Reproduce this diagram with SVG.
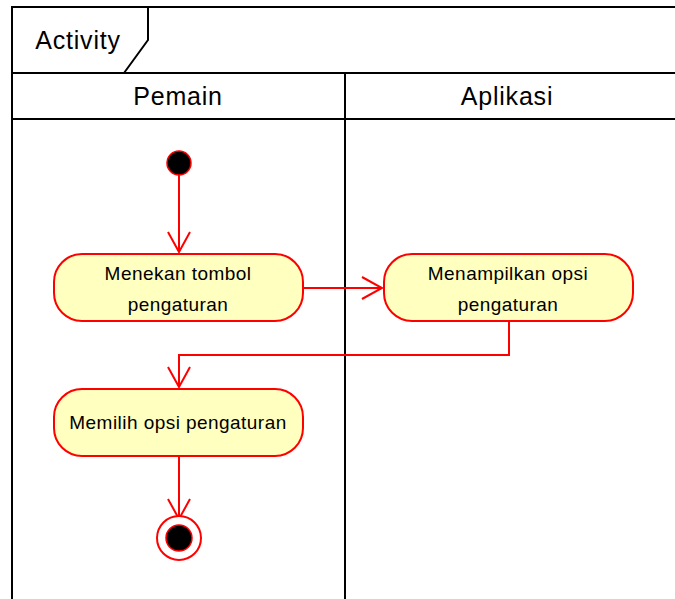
<svg xmlns="http://www.w3.org/2000/svg" width="675" height="599" viewBox="0 0 675 599">
  <style>
    .frame { fill: none; stroke: #000; stroke-width: 2; }
    .action { fill: #ffffc0; stroke: #ff0000; stroke-width: 2; }
    .flow { fill: none; stroke: #ff0000; stroke-width: 2; }
    .lbl { font-family: "Liberation Sans", Arial, sans-serif; fill: #000; text-anchor: middle; }
    .act { font-size: 19px; letter-spacing: 0.45px; }
    .lane { font-size: 25px; letter-spacing: 0.8px; }
  </style>
  <defs>
    <marker id="open" viewBox="0 0 24 24" markerWidth="24" markerHeight="24" refX="22" refY="12" orient="auto" markerUnits="userSpaceOnUse">
      <path d="M2,1 L22,12 L2,23" fill="none" stroke="#ff0000" stroke-width="2"/>
    </marker>
  </defs>

  <!-- activity frame and swimlanes -->
  <g id="frame">
    <path class="frame" d="M12,599 V7 H680"/>
    <path class="frame" d="M148,7 V40 L124,73"/>
    <line class="frame" x1="12" y1="73" x2="680" y2="73"/>
    <line class="frame" x1="12" y1="119" x2="680" y2="119"/>
    <line class="frame" x1="345" y1="73" x2="345" y2="599"/>
    <text class="lbl lane" x="78" y="49">Activity</text>
    <text class="lbl lane" x="178" y="105">Pemain</text>
    <text class="lbl lane" x="507" y="105">Aplikasi</text>
  </g>

  <g id="connectors">
    <line class="flow" x1="179" y1="175" x2="179" y2="252" marker-end="url(#open)"/>
    <line class="flow" x1="303" y1="288" x2="382" y2="288" marker-end="url(#open)"/>
    <polyline class="flow" points="509,321 509,355 179,355 179,387" marker-end="url(#open)"/>
    <line class="flow" x1="179" y1="456" x2="179" y2="519" marker-end="url(#open)"/>
  </g>

  <g id="start">
    <circle cx="179" cy="163" r="12" fill="#000" stroke="#ff0000" stroke-width="1.5"/>
  </g>

  <g id="menekan">
    <rect class="action" x="54" y="254" width="249" height="67" rx="28"/>
    <text class="lbl act" x="178" y="280">Menekan tombol</text>
    <text class="lbl act" x="178" y="311">pengaturan</text>
  </g>

  <g id="menampilkan">
    <rect class="action" x="384" y="254" width="249" height="67" rx="28"/>
    <text class="lbl act" x="508" y="280">Menampilkan opsi</text>
    <text class="lbl act" x="508" y="311">pengaturan</text>
  </g>

  <g id="memilih">
    <rect class="action" x="54" y="389" width="249" height="67" rx="28"/>
    <text class="lbl act" x="178" y="429">Memilih opsi pengaturan</text>
  </g>

  <g id="end">
    <circle cx="179" cy="538" r="22" fill="#fff" stroke="#ff0000" stroke-width="2"/>
    <circle cx="179" cy="538" r="13" fill="#000" stroke="#ff0000" stroke-width="1.5"/>
  </g>
</svg>
